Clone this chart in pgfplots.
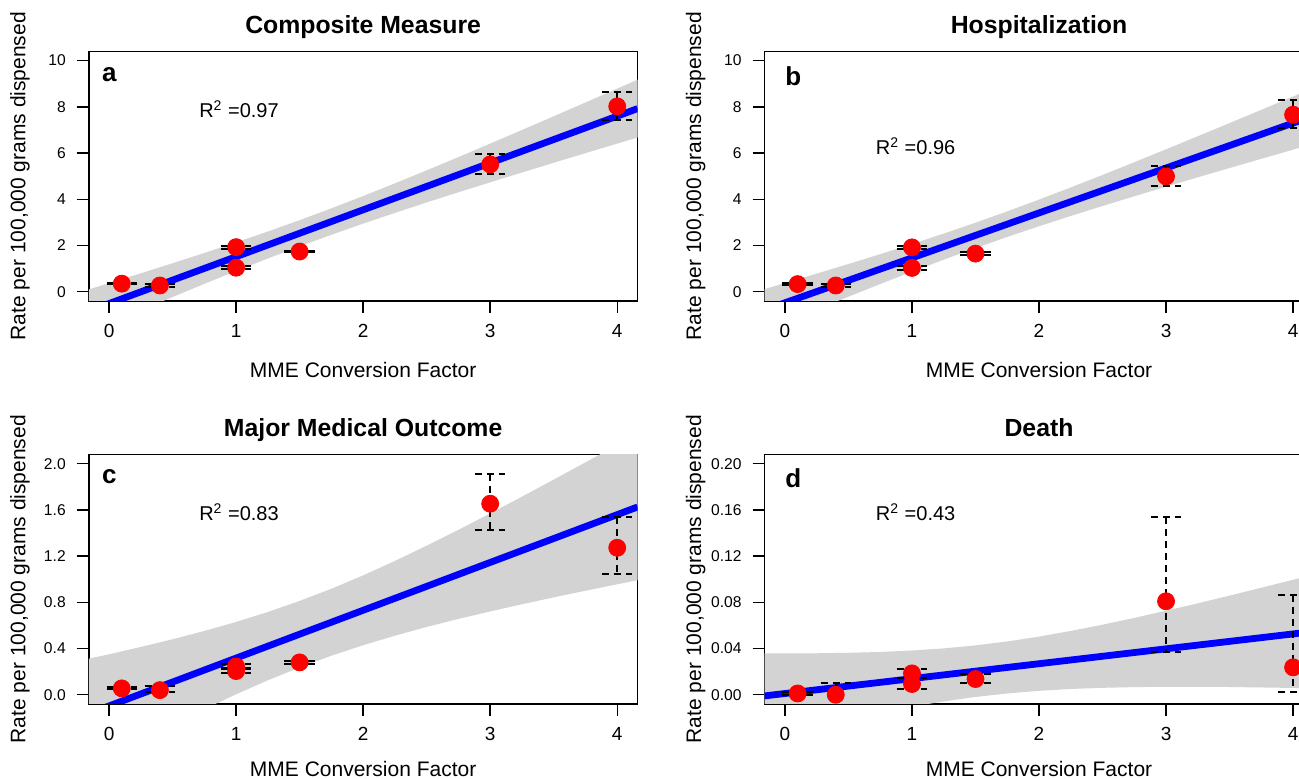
\documentclass[border=0pt]{standalone}
\usepackage{fontspec}
\setmainfont{Liberation Sans}
\usepackage{pgfplots}
\pgfplotsset{compat=1.18}
\definecolor{bandgray}{RGB}{211,211,211}
\tikzset{
 letter/.style={anchor=base west, inner sep=0pt, font=\bfseries\fontsize{13}{15}\selectfont},
 rsq/.style={anchor=base west, inner sep=0pt, font=\fontsize{10}{12}\selectfont},
}
\pgfplotsset{
 panel/.style={
  scale only axis, width=274.4pt, height=124.8pt,
  anchor=south west,
  xmin=-0.16, xmax=4.16,
  xtick={0,1,2,3,4},
  axis line style={line width=0.8pt},
  tick style={black, line width=0.7pt},
  tick align=outside, major tick length=6pt,
  xtick pos=bottom, ytick pos=left,
  /pgf/number format/assume math mode=true,
  xticklabel style={font=\fontsize{9.5}{11}\selectfont, yshift=-2pt},
  yticklabel style={font=\fontsize{7.8}{9}\selectfont, xshift=-2pt},
  label style={font=\fontsize{10.5}{12}\selectfont},
  xlabel={MME Conversion Factor},
  ylabel={Rate per 100,000 grams dispensed},
  xlabel style={at={(axis description cs:0.5,-0.2756)}, anchor=center, inner sep=0pt},
  ylabel style={at={(axis description cs:-0.1254,0.5)}, anchor=center},
  title style={font=\bfseries\fontsize{12.4}{14}\selectfont, at={(axis description cs:0.5,1)}, anchor=base, yshift=2.7pt},
  unbounded coords=jump,
 },
 lowrow/.style={xlabel style={at={(axis description cs:0.5,-0.2604)}}},
 band/.style={fill=bandgray, draw=none},
 fit/.style={blue, line width=3.4pt},
 eb/.style={black, line width=1pt, dash pattern=on 3.5pt off 2.5pt},
 pts/.style={only marks, mark=*, red, mark size=4.25pt},
}
\begin{document}
\begin{tikzpicture}
% ---------- a ----------
\begin{axis}[panel, at={(44.375pt,239pt)}, ymin=-0.4, ymax=10.4, ytick={0,2,4,6,8,10}, title={Composite Measure}]
\addplot[band] coordinates {(-0.16,0.101)(0,0.371)(0.25,0.798)(0.5,1.233)(0.75,1.677)(1,2.134)(1.25,2.607)(1.5,3.098)(1.75,3.609)(2,4.140)(2.25,4.689)(2.5,5.252)(2.75,5.826)(3,6.409)(3.25,6.998)(3.5,7.592)(3.75,8.189)(4,8.790)(4.16,9.175)
 (4.16,6.673)(4,6.410)(3.75,5.997)(3.5,5.580)(3.25,5.160)(3,4.735)(2.75,4.304)(2.5,3.864)(2.25,3.413)(2,2.948)(1.75,2.465)(1.5,1.962)(1.25,1.439)(1,0.898)(0.75,0.341)(0.5,-0.229)(0.25,-0.808)(0,-1.395)(-0.16,-1.773)};
\addplot[fit] coordinates {(-0.16,-0.836)(4.16,7.924)};
\addplot[eb] coordinates {
(-0.02,0.38)(0.22,0.38)(0.1,nan)(-0.02,0.32)(0.22,0.32)(0.1,nan)
(0.28,0.34)(0.52,0.34)(0.4,nan)(0.28,0.20)(0.52,0.20)(0.4,nan)(0.4,0.34)(0.4,0.20)(0.4,nan)
(0.88,2.00)(1.12,2.00)(1,nan)(0.88,1.86)(1.12,1.86)(1,nan)
(0.88,1.11)(1.12,1.11)(1,nan)(0.88,0.97)(1.12,0.97)(1,nan)
(1.38,1.78)(1.62,1.78)(1.5,nan)(1.38,1.70)(1.62,1.70)(1.5,nan)
(2.88,5.97)(3.12,5.97)(3,nan)(2.88,5.09)(3.12,5.09)(3,nan)(3,5.97)(3,5.09)(3,nan)
(3.88,8.66)(4.12,8.66)(4,nan)(3.88,7.42)(4.12,7.42)(4,nan)(4,8.66)(4,7.42)};
\addplot[pts] coordinates {(0.1,0.35)(0.4,0.27)(1,1.93)(1,1.04)(1.5,1.74)(3,5.51)(4,8.02)};
\node[letter] at (axis cs:-0.057,9.09) {a};
\node[rsq] at (axis cs:0.707,7.53) {R\textsuperscript{2} =0.97};
\end{axis}
% ---------- b ----------
\begin{axis}[panel, at={(382.3pt,239pt)}, ymin=-0.4, ymax=10.4, ytick={0,2,4,6,8,10}, title={Hospitalization}]
\addplot[band] coordinates {(-0.16,0.116)(0,0.375)(0.25,0.784)(0.5,1.201)(0.75,1.626)(1,2.063)(1.25,2.516)(1.5,2.987)(1.75,3.477)(2,3.986)(2.25,4.513)(2.5,5.053)(2.75,5.604)(3,6.163)(3.25,6.728)(3.5,7.298)(3.75,7.872)(4,8.448)(4.16,8.818)
 (4.16,6.400)(4,6.148)(3.75,5.752)(3.5,5.354)(3.25,4.952)(3,4.545)(2.75,4.132)(2.5,3.711)(2.25,3.279)(2,2.834)(1.75,2.371)(1.5,1.889)(1.25,1.388)(1,0.869)(0.75,0.334)(0.5,-0.213)(0.25,-0.768)(0,-1.331)(-0.16,-1.694)};
\addplot[fit] coordinates {(-0.16,-0.789)(4.16,7.609)};
\addplot[eb] coordinates {
(-0.02,0.36)(0.22,0.36)(0.1,nan)(-0.02,0.30)(0.22,0.30)(0.1,nan)
(0.28,0.33)(0.52,0.33)(0.4,nan)(0.28,0.21)(0.52,0.21)(0.4,nan)
(0.88,1.99)(1.12,1.99)(1,nan)(0.88,1.85)(1.12,1.85)(1,nan)
(0.88,1.10)(1.12,1.10)(1,nan)(0.88,0.96)(1.12,0.96)(1,nan)
(1.38,1.70)(1.62,1.70)(1.5,nan)(1.38,1.60)(1.62,1.60)(1.5,nan)
(2.88,5.42)(3.12,5.42)(3,nan)(2.88,4.59)(3.12,4.59)(3,nan)(3,5.42)(3,4.59)(3,nan)
(3.88,8.31)(4.12,8.31)(4,nan)(3.88,7.10)(4.12,7.10)(4,nan)(4,8.31)(4,7.10)};
\addplot[pts] coordinates {(0.1,0.33)(0.4,0.27)(1,1.92)(1,1.03)(1.5,1.65)(3,4.99)(4,7.66)};
\node[letter] at (axis cs:0.0,8.92) {b};
\node[rsq] at (axis cs:0.713,5.93) {R\textsuperscript{2} =0.96};
\end{axis}
% ---------- c ----------
\begin{axis}[panel, lowrow, at={(44.375pt,37.5pt)}, ymin=-0.08, ymax=2.08, ytick={0,0.4,0.8,1.2,1.6,2.0},
  yticklabel style={/pgf/number format/.cd, fixed, fixed zerofill, precision=1}, title={Major Medical Outcome}]
\addplot[band] coordinates {(-0.16,0.312)(0,0.350)(0.25,0.414)(0.5,0.480)(0.75,0.552)(1,0.630)(1.25,0.716)(1.5,0.812)(1.75,0.917)(2,1.033)(2.25,1.158)(2.5,1.290)(2.75,1.427)(3,1.569)(3.25,1.714)(3.5,1.862)(3.75,2.011)(4,2.162)(4.16,2.259)
 (4.16,0.991)(4,0.956)(3.75,0.900)(3.5,0.843)(3.25,0.783)(3,0.721)(2.75,0.656)(2.5,0.587)(2.25,0.511)(2,0.429)(1.75,0.338)(1.5,0.236)(1.25,0.125)(1,0.004)(0.75,-0.125)(0.5,-0.260)(0.25,-0.401)(0,-0.544)(-0.16,-0.638)};
\addplot[fit] coordinates {(-0.16,-0.163)(4.16,1.625)};
\addplot[eb] coordinates {
(-0.02,0.063)(0.22,0.063)(0.1,nan)(-0.02,0.047)(0.22,0.047)(0.1,nan)
(0.28,0.072)(0.52,0.072)(0.4,nan)(0.28,0.020)(0.52,0.020)(0.4,nan)
(0.88,0.262)(1.12,0.262)(1,nan)(0.88,0.228)(1.12,0.228)(1,nan)
(0.88,0.225)(1.12,0.225)(1,nan)(0.88,0.185)(1.12,0.185)(1,nan)
(1.38,0.295)(1.62,0.295)(1.5,nan)(1.38,0.265)(1.62,0.265)(1.5,nan)
(2.88,1.913)(3.12,1.913)(3,nan)(2.88,1.422)(3.12,1.422)(3,nan)(3,1.913)(3,1.422)(3,nan)
(3.88,1.537)(4.12,1.537)(4,nan)(3.88,1.046)(4.12,1.046)(4,nan)(4,1.537)(4,1.046)};
\addplot[pts] coordinates {(0.1,0.055)(0.4,0.04)(1,0.245)(1,0.205)(1.5,0.28)(3,1.653)(4,1.272)};
\node[letter] at (axis cs:-0.057,1.827) {c};
\node[rsq] at (axis cs:0.707,1.508) {R\textsuperscript{2} =0.83};
\end{axis}
% ---------- d ----------
\begin{axis}[panel, lowrow, at={(382.3pt,37.5pt)}, ymin=-0.008, ymax=0.208, ytick={0,0.04,0.08,0.12,0.16,0.20},
  yticklabel style={/pgf/number format/.cd, fixed, fixed zerofill, precision=2}, title={Death}]
\addplot[band] coordinates {(-0.16,0.0358)(0,0.0358)(0.25,0.0359)(0.5,0.0363)(0.75,0.0370)(1,0.0383)(1.25,0.0401)(1.5,0.0427)(1.75,0.0461)(2,0.0503)(2.25,0.0552)(2.5,0.0606)(2.75,0.0665)(3,0.0727)(3.25,0.0791)(3.5,0.0858)(3.75,0.0926)(4,0.0995)(4.16,0.1039)
 (4.16,0.0055)(4,0.0059)(3.75,0.0063)(3.5,0.0067)(3.25,0.0069)(3,0.0069)(2.75,0.0066)(2.5,0.0060)(2.25,0.0050)(2,0.0034)(1.75,0.0011)(1.5,-0.0019)(1.25,-0.0058)(1,-0.0103)(0.75,-0.0155)(0.5,-0.0212)(0.25,-0.0273)(0,-0.0337)(-0.16,-0.0378)};
\addplot[fit] coordinates {(-0.16,-0.001)(4.16,0.0547)};
\addplot[eb] coordinates {
(-0.02,0.0025)(0.22,0.0025)(0.1,nan)(-0.02,-0.0003)(0.22,-0.0003)(0.1,nan)
(0.28,0.0101)(0.52,0.0101)(0.4,nan)(0.4,0.0101)(0.4,-0.002)(0.4,nan)
(0.88,0.0223)(1.12,0.0223)(1,nan)(0.88,0.0148)(1.12,0.0148)(1,nan)
(0.88,0.0049)(1.12,0.0049)(1,nan)(1,0.0223)(1,0.0049)(1,nan)
(1.38,0.018)(1.62,0.018)(1.5,nan)(1.38,0.0101)(1.62,0.0101)(1.5,nan)
(2.88,0.1537)(3.12,0.1537)(3,nan)(2.88,0.0367)(3.12,0.0367)(3,nan)(3,0.1537)(3,0.0367)(3,nan)
(3.88,0.0867)(4.12,0.0867)(4,nan)(3.88,0.0026)(4.12,0.0026)(4,nan)(4,0.0867)(4,0.0026)};
\addplot[pts] coordinates {(0.1,0.0011)(0.4,0.0)(1,0.0185)(1,0.0093)(1.5,0.0136)(3,0.0809)(4,0.0237)};
\node[letter] at (axis cs:0.0,0.1797) {d};
\node[rsq] at (axis cs:0.713,0.1508) {R\textsuperscript{2} =0.43};
\end{axis}
\pgfresetboundingbox
\useasboundingbox (0,0) rectangle (649.5pt,389.5pt);
\end{tikzpicture}
\end{document}
